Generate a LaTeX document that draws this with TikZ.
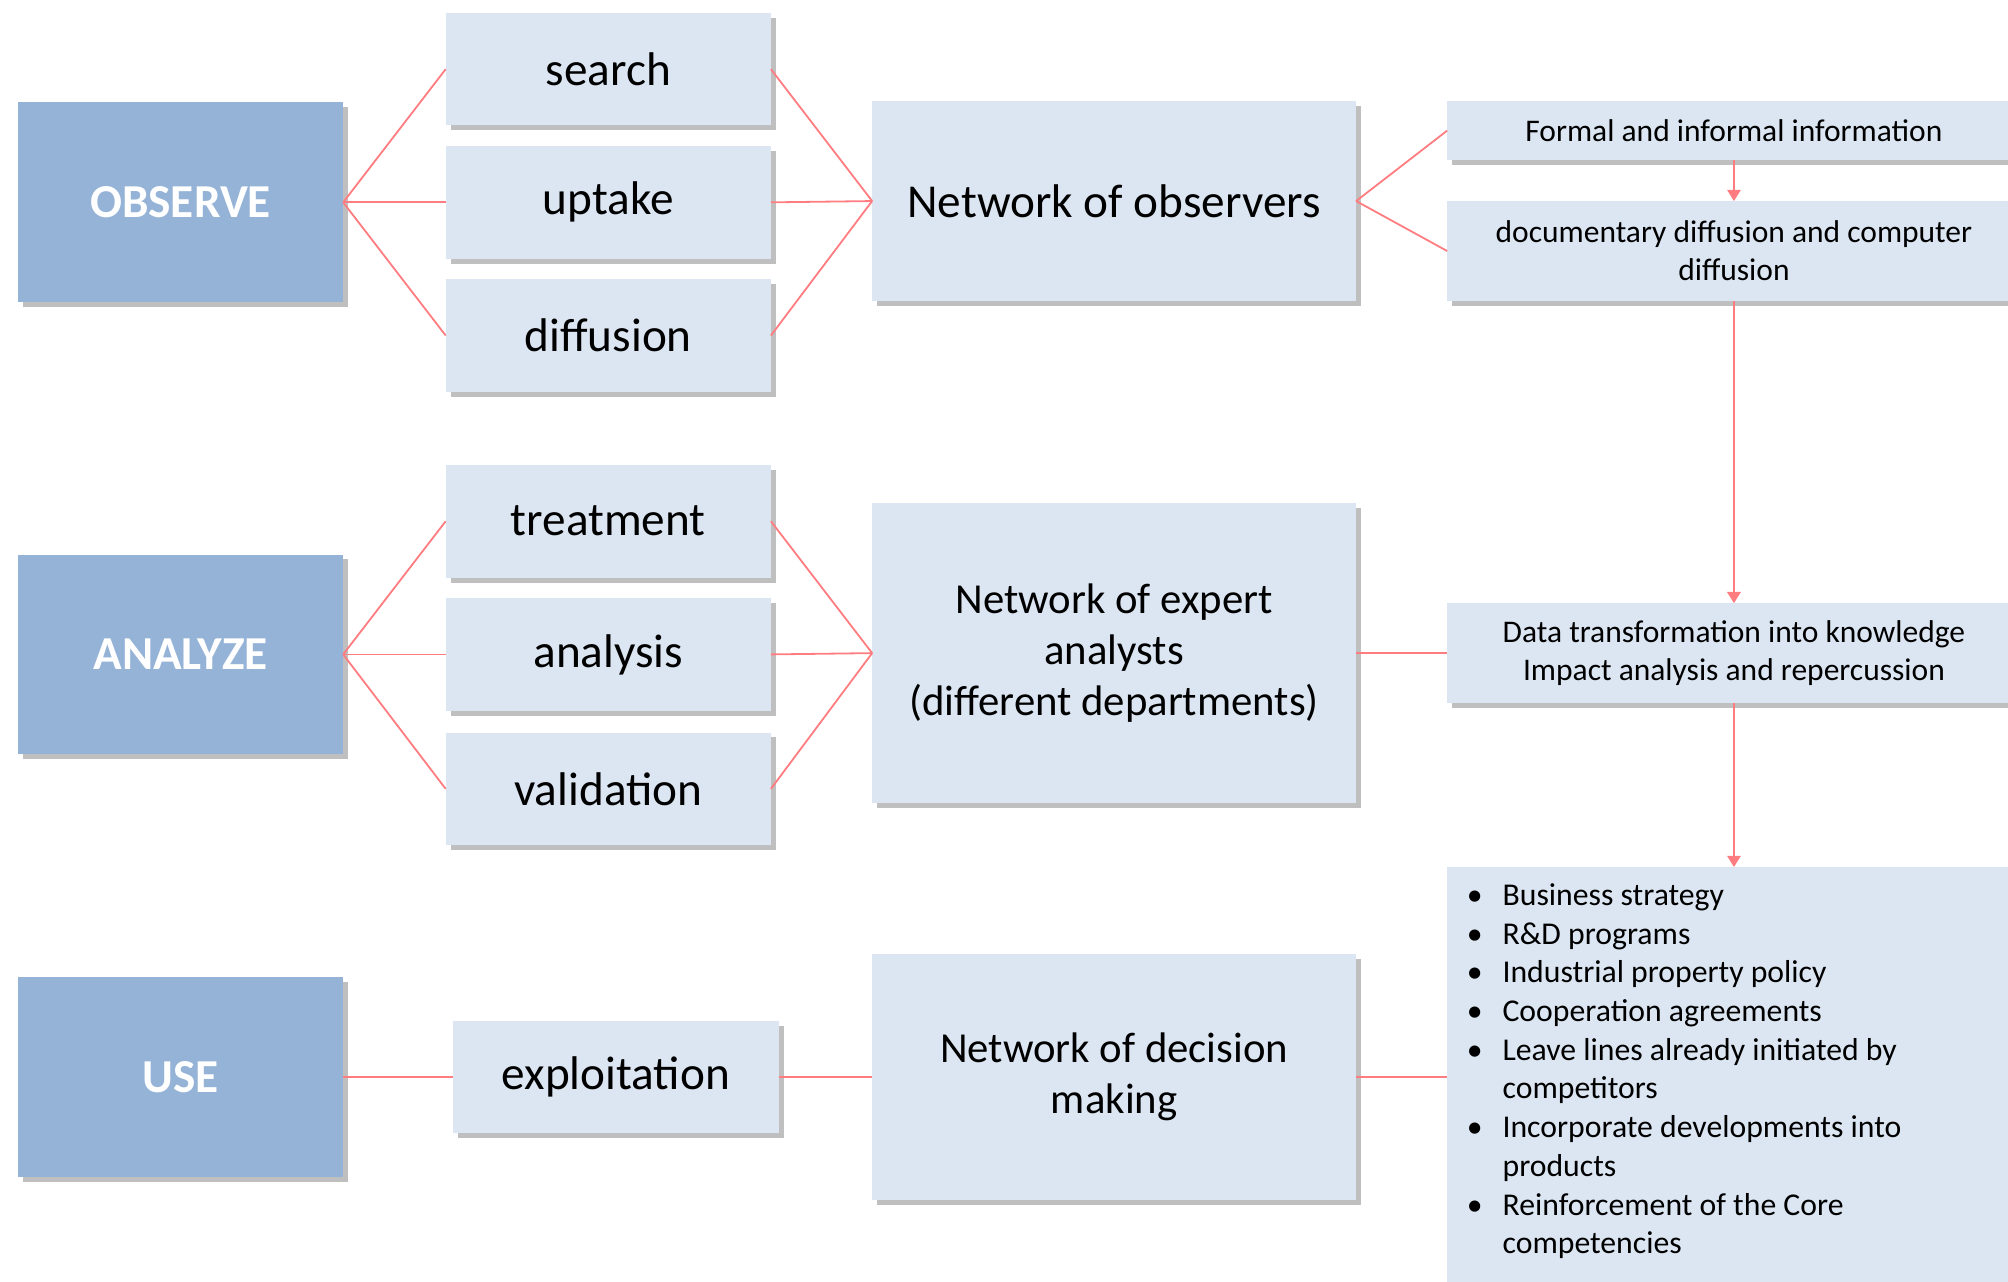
\documentclass[tikz,border=0pt]{standalone}
\usepackage{fontspec}
\setmainfont{Carlito}
\usepackage{xcolor}
\usepackage{tikz}
\usetikzlibrary{arrows.meta}
\usetikzlibrary{shadows}

\definecolor{phaseblue}{HTML}{95B3D7}
\definecolor{paleblue}{HTML}{DCE6F2}
\definecolor{linkred}{HTML}{FF7C80}

\begin{document}
\begin{tikzpicture}[x=0.02cm,y=-0.02cm,
	boxshadow/.style={drop shadow={shadow xshift=2.2pt,shadow yshift=-2.2pt,fill=black,opacity=0.25}},
	phase/.style={fill=phaseblue,text=white,font=\fontsize{21}{25}\selectfont\bfseries,
		minimum width=5.08cm,minimum height=3.12cm,inner sep=0pt,outer sep=0pt,boxshadow},
	task/.style={fill=paleblue,font=\fontsize{21}{25}\selectfont,
		minimum width=5.08cm,minimum height=1.76cm,inner sep=0pt,outer sep=0pt,boxshadow},
	net/.style={fill=paleblue,font=\fontsize{21}{22.5}\selectfont,align=center,
		minimum width=7.56cm,inner sep=0pt,outer sep=0pt,boxshadow},
	info/.style={fill=paleblue,font=\fontsize{14}{17}\selectfont,align=center,
		minimum width=8.96cm,inner sep=0pt,outer sep=0pt,boxshadow},
	link/.style={draw=linkred,line width=0.8pt},
	flow/.style={link,-{Triangle[width=6pt,length=5pt]}}]
\useasboundingbox (0,0) rectangle (1568,1001);
\clip (0,0) rectangle (1568,1001);

% phases
\node[phase] (observe) at (141,158) {OBSERVE};
\node[phase] (analyze) at (141,511) {ANALYZE};
\node[phase] (use) at (141,841) {USE};

% tasks
\node[task] (search) at (475,54) {search};
\node[task] (uptake) at (475,158) {uptake};
\node[task] (diffusion) at (475,262) {diffusion};
\node[task] (treatment) at (475,407) {treatment};
\node[task] (analysis) at (475,511) {analysis};
\node[task] (validation) at (475,616) {validation};
\node[task] (exploitation) at (481,841) {exploitation};

% networks
\node[net,minimum height=3.12cm] (observers) at (870,157) {Network of observers};
\node[net,minimum height=4.68cm,font=\fontsize{19}{22.5}\selectfont] (experts) at (870,510) {Network of expert\\analysts\\(different departments)};
\node[net,minimum height=3.84cm,font=\fontsize{19}{22.5}\selectfont] (deciders) at (870,841) {Network of decision\\making};

% right column (cut by the border)
\node[info,minimum height=0.92cm] (formal) at (1354,102) {Formal and informal information};
\node[info,minimum height=1.56cm] (documentary) at (1354,196) {documentary diffusion and computer\\diffusion};
\node[info,minimum height=1.56cm] (knowledge) at (1354,510) {Data transformation into knowledge\\Impact analysis and repercussion};
\node[info,minimum height=6.56cm] (actions) at (1354,841) {};
\node[anchor=base west,inner sep=0pt,font=\fontsize{14.1}{17.2}\selectfont] (actionlist) at (1145,707) {%
	\begin{tabular}[t]{@{}p{0.56cm}@{}l@{}}
	\textbullet & Business strategy\\
	\textbullet & R\&D programs\\
	\textbullet & Industrial property policy\\
	\textbullet & Cooperation agreements\\
	\textbullet & Leave lines already initiated by\\
	 & competitors\\
	\textbullet & Incorporate developments into\\
	 & products\\
	\textbullet & Reinforcement of the Core\\
	 & competencies
	\end{tabular}};

% observe row
\draw[link] (observe.east) -- (search.west);
\draw[link] (observe.east) -- (uptake.west);
\draw[link] (observe.east) -- (diffusion.west);
\draw[link] (search.east) -- (observers.west);
\draw[link] (uptake.east) -- (observers.west);
\draw[link] (diffusion.east) -- (observers.west);
\draw[link] (observers.east) -- (formal.west);
\draw[link] (observers.east) -- (documentary.west);

% analyze row
\draw[link] (analyze.east) -- (treatment.west);
\draw[link] (analyze.east) -- (analysis.west);
\draw[link] (analyze.east) -- (validation.west);
\draw[link] (treatment.east) -- (experts.west);
\draw[link] (analysis.east) -- (experts.west);
\draw[link] (validation.east) -- (experts.west);
\draw[link] (experts.east) -- (knowledge.west);

% use row
\draw[link] (use.east) -- (exploitation.west);
\draw[link] (exploitation.east) -- (deciders.west);
\draw[link] (deciders.east) -- (actions.west);

% down the right column
\draw[flow] (formal.south) -- (documentary.north);
\draw[flow] (documentary.south) -- (knowledge.north);
\draw[flow] (knowledge.south) -- (actions.north);

\end{tikzpicture}
\end{document}
